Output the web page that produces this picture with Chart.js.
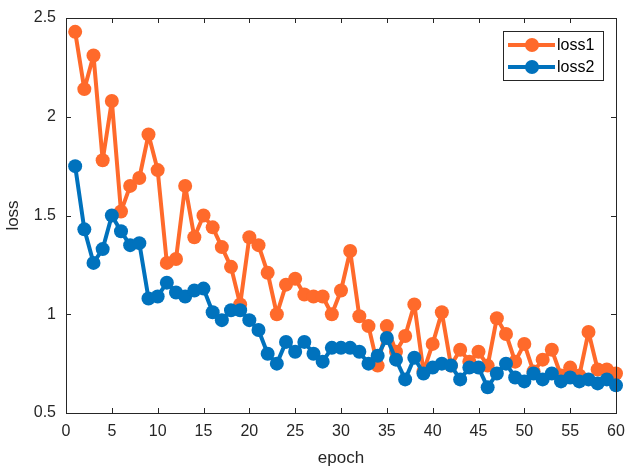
<!DOCTYPE html>
<html>
<head>
<meta charset="utf-8">
<script src="https://cdn.jsdelivr.net/npm/chart.js@4.4.1/dist/chart.umd.min.js"></script>
<style>
  html, body { margin: 0; padding: 0; background: #fff; }
  #wrap { width: 626px; height: 473px; }
</style>
</head>
<body>
<div id="wrap"><canvas id="lossChart" width="626" height="473"></canvas></div>
<script>
const epochs = Array.from({ length: 60 }, (_, i) => i + 1);
const loss1 = [
  2.43, 2.14, 2.31, 1.78, 2.08, 1.52, 1.65, 1.69, 1.91, 1.73,
  1.26, 1.28, 1.65, 1.39, 1.50, 1.44, 1.34, 1.24, 1.05, 1.39,
  1.35, 1.21, 1.00, 1.15, 1.18, 1.10, 1.09, 1.09, 1.00, 1.12,
  1.32, 0.99, 0.94, 0.74, 0.94, 0.81, 0.89, 1.05, 0.71, 0.85,
  1.01, 0.74, 0.82, 0.76, 0.81, 0.74, 0.98, 0.90, 0.76, 0.85,
  0.71, 0.77, 0.82, 0.69, 0.73, 0.69, 0.91, 0.72, 0.72, 0.70
];
const loss2 = [
  1.75, 1.43, 1.26, 1.33, 1.50, 1.42, 1.35, 1.36, 1.08, 1.09,
  1.16, 1.11, 1.09, 1.12, 1.13, 1.01, 0.97, 1.02, 1.02, 0.97,
  0.92, 0.80, 0.75, 0.86, 0.81, 0.86, 0.80, 0.76, 0.83, 0.83,
  0.83, 0.81, 0.75, 0.79, 0.88, 0.77, 0.67, 0.78, 0.70, 0.73,
  0.75, 0.74, 0.67, 0.73, 0.73, 0.63, 0.70, 0.75, 0.68, 0.66,
  0.70, 0.67, 0.70, 0.66, 0.68, 0.66, 0.67, 0.65, 0.67, 0.64
];
const xTicks = [0, 5, 10, 15, 20, 25, 30, 35, 40, 45, 50, 55, 60];
const yTicks = [0.5, 1, 1.5, 2, 2.5];

const orange = "#FF6A2B";
const blue = "#0072BD";
const axisColor = "#262626";
const fontFamily = "'Liberation Sans', Arial, Helvetica, sans-serif";

// box + inward ticks + legend, drawn MATLAB-style
const matlabAxes = {
  id: "matlabAxes",
  afterDraw(chart) {
    const ctx = chart.ctx;
    const a = chart.chartArea;
    const xs = chart.scales.x, ys = chart.scales.y;
    ctx.save();
    ctx.strokeStyle = axisColor;
    ctx.lineWidth = 1;
    ctx.strokeRect(a.left + 0.5, a.top + 0.5, a.right - a.left, a.bottom - a.top);
    ctx.beginPath();
    xTicks.forEach(v => {
      const px = Math.round(xs.getPixelForValue(v)) + 0.5;
      ctx.moveTo(px, a.bottom); ctx.lineTo(px, a.bottom - 5);
      ctx.moveTo(px, a.top); ctx.lineTo(px, a.top + 5);
    });
    yTicks.forEach(v => {
      const py = Math.round(ys.getPixelForValue(v)) + 0.5;
      ctx.moveTo(a.left, py); ctx.lineTo(a.left + 5, py);
      ctx.moveTo(a.right, py); ctx.lineTo(a.right - 5, py);
    });
    ctx.stroke();

    // legend
    const lx = 503, ly = 31, lw = 100, lh = 49;
    ctx.fillStyle = "#fff";
    ctx.fillRect(lx, ly, lw, lh);
    ctx.strokeStyle = axisColor;
    ctx.strokeRect(lx + 0.5, ly + 0.5, lw, lh);
    chart.data.datasets.forEach((ds, i) => {
      const cy = ly + 14 + i * 22;
      ctx.strokeStyle = ds.borderColor;
      ctx.lineWidth = 4;
      ctx.beginPath();
      ctx.moveTo(lx + 5, cy); ctx.lineTo(lx + 52, cy);
      ctx.stroke();
      ctx.fillStyle = ds.borderColor;
      ctx.beginPath();
      ctx.arc(lx + 29, cy, 7, 0, Math.PI * 2);
      ctx.fill();
      ctx.fillStyle = "#000";
      ctx.font = "16px " + fontFamily;
      ctx.textBaseline = "middle";
      ctx.fillText(ds.label, lx + 54, cy + 1);
    });
    ctx.restore();
  }
};

new Chart(document.getElementById("lossChart"), {
  type: "line",
  data: {
    datasets: [
      {
        label: "loss1",
        data: epochs.map((e, i) => ({ x: e, y: loss1[i] })),
        borderColor: orange,
        backgroundColor: orange,
        borderWidth: 4,
        borderJoinStyle: "round",
        pointRadius: 7,
        pointBorderWidth: 0,
        pointHoverRadius: 7,
        tension: 0,
        order: 1
      },
      {
        label: "loss2",
        data: epochs.map((e, i) => ({ x: e, y: loss2[i] })),
        borderColor: blue,
        backgroundColor: blue,
        borderWidth: 4,
        borderJoinStyle: "round",
        pointRadius: 7,
        pointBorderWidth: 0,
        pointHoverRadius: 7,
        tension: 0,
        order: 0
      }
    ]
  },
  options: {
    responsive: false,
    animation: false,
    clip: false,
    layout: { padding: { left: 2, right: 10, top: 18, bottom: 0 } },
    plugins: { legend: { display: false }, tooltip: { enabled: false } },
    scales: {
      x: {
        type: "linear",
        min: 0,
        max: 60,
        afterBuildTicks: s => { s.ticks = xTicks.map(v => ({ value: v })); },
        afterFit: s => { s.height = 60; s.paddingLeft = 0; s.paddingRight = 0; },
        grid: { display: false, drawTicks: false },
        border: { display: false },
        ticks: { color: axisColor, padding: 9, font: { size: 16, family: fontFamily }, maxRotation: 0 },
        title: { display: true, text: "epoch", color: axisColor, padding: { top: 9 }, font: { size: 17, family: fontFamily } }
      },
      y: {
        min: 0.5,
        max: 2.5,
        afterBuildTicks: s => { s.ticks = yTicks.map(v => ({ value: v })); },
        afterFit: s => { s.width = 64; s.paddingTop = 0; s.paddingBottom = 0; },
        grid: { display: false, drawTicks: false },
        border: { display: false },
        ticks: { color: axisColor, padding: 10, font: { size: 16, family: fontFamily }, callback: v => String(v) },
        title: { display: true, text: "loss", color: axisColor, padding: { top: 1, bottom: 2 }, font: { size: 17, family: fontFamily } }
      }
    }
  },
  plugins: [matlabAxes]
});
</script>
</body>
</html>
